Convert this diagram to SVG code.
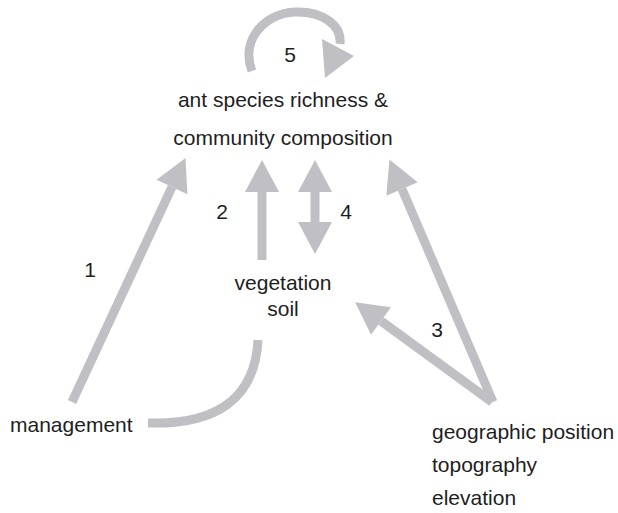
<svg xmlns="http://www.w3.org/2000/svg" width="618" height="513" viewBox="0 0 618 513">
<style>
text{font-family:"Liberation Sans",Arial,sans-serif;font-size:21px;fill:#1e1e1e}
.c{fill:none;stroke:#c0c0c4;stroke-width:9}
.h{fill:#c0c0c4}
</style>
<defs>
<marker id="ah" markerUnits="userSpaceOnUse" markerWidth="34" markerHeight="34" refX="0" refY="17" orient="auto-start-reverse" viewBox="0 0 32 34"><path class="h" d="M0,0 L32,17 L0,34 z"/></marker>
</defs>
<rect width="618" height="513" fill="#fff"/>
<g id="connectors">
<line class="c" x1="72" y1="402" x2="172" y2="187" marker-end="url(#ah)"/>
<line class="c" x1="262" y1="260" x2="262" y2="192" marker-end="url(#ah)"/>
<line class="c" x1="315" y1="192" x2="315" y2="222" marker-start="url(#ah)" marker-end="url(#ah)"/>
<line class="c" x1="492" y1="402" x2="381" y2="321" marker-end="url(#ah)"/>
<line class="c" x1="493" y1="402" x2="402" y2="189" marker-end="url(#ah)"/>
<path class="c" d="M252,71 C240,40 265,13 295,12 C322,11 342,25 340,44"/>
<polygon class="h" points="322,39 354,56 325,78"/>
<path class="c" d="M148,423 C215,425 255,400 258,340"/>
<text x="290" y="62" text-anchor="middle">5</text>
<text x="222" y="219" text-anchor="middle">2</text>
<text x="90" y="277" text-anchor="middle">1</text>
<text x="346" y="219" text-anchor="middle">4</text>
<text x="437" y="337" text-anchor="middle">3</text>
</g>
<g id="ant">
<text x="283" y="107" text-anchor="middle">ant species richness &amp;</text>
<text x="283" y="145" text-anchor="middle">community composition</text>
</g>
<g id="vegetation">
<text x="283" y="290" text-anchor="middle">vegetation</text>
<text x="283" y="316" text-anchor="middle">soil</text>
</g>
<g id="management">
<text x="10" y="432">management</text>
</g>
<g id="geographic">
<text x="432" y="439">geographic position</text>
<text x="432" y="472">topography</text>
<text x="432" y="505">elevation</text>
</g>
</svg>
